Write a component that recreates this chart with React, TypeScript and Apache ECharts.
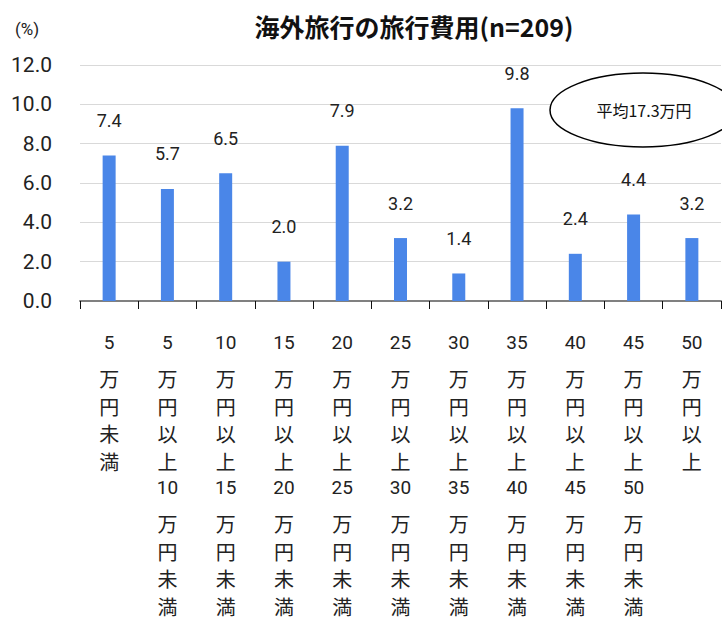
import React, { useEffect, useRef } from "react";
import * as echarts from "echarts";

// Spending brackets (万円) and the share of respondents in each (%)
const categories: string[] = [
  "5万円未満",
  "5万円以上10万円未満",
  "10万円以上15万円未満",
  "15万円以上20万円未満",
  "20万円以上25万円未満",
  "25万円以上30万円未満",
  "30万円以上35万円未満",
  "35万円以上40万円未満",
  "40万円以上45万円未満",
  "45万円以上50万円未満",
  "50万円以上",
];
const shares: number[] = [7.4, 5.7, 6.5, 2.0, 7.9, 3.2, 1.4, 9.8, 2.4, 4.4, 3.2];
const yTicks = { min: 0, max: 12, step: 2 };

const titleText = "海外旅行の旅行費用(n=209)";
const unitText = "(%)";
const averageText = "平均17.3万円";

const FONT = "'Noto Sans CJK JP', 'Noto Sans', sans-serif";
const LATIN = "Roboto, 'Noto Sans', sans-serif";

// Stack each category name vertically: numbers on their own line with a small gap after,
// every other character on its own line.
function stackLabel(name: string): string {
  const parts = name.match(/[0-9]+|./g) || [];
  const lines: string[] = [];
  parts.forEach((p) => {
    if (/^[0-9]+$/.test(p)) {
      lines.push(`{n|${p}}`);
      lines.push(`{s| }`);
    } else {
      lines.push(`{c|${p}}`);
    }
  });
  return lines.join("\n");
}

export default function App() {
  const ref = useRef<HTMLDivElement>(null);

  useEffect(() => {
    if (!ref.current) return;
    const chart = echarts.init(ref.current, null, { renderer: "svg" });
    chart.setOption({
      animation: false,
      backgroundColor: "#ffffff",
      grid: {
        left: 80,
        right: 1,
        top: 65,
        bottom: 320,
        containLabel: false,
        outerBoundsMode: "none",
      },
      xAxis: {
        type: "category",
        data: categories,
        axisLine: { show: true, lineStyle: { color: "#808080", width: 2 } },
        axisTick: { show: true, length: 8, lineStyle: { color: "#111", width: 1 } },
        axisLabel: {
          interval: 0,
          margin: 29.5,
          formatter: (v: string) => stackLabel(v),
          rich: {
            n: { fontFamily: LATIN, fontSize: 19, lineHeight: 24, color: "#222" },
            s: { fontFamily: LATIN, fontSize: 8, lineHeight: 10, color: "#222" },
            c: { fontFamily: FONT, fontSize: 20, lineHeight: 27.75, color: "#222" },
          },
        },
        splitLine: { show: false },
      },
      yAxis: {
        type: "value",
        min: yTicks.min,
        max: yTicks.max,
        interval: yTicks.step,
        axisLine: { show: false },
        axisTick: { show: false },
        axisLabel: {
          margin: 28,
          fontFamily: LATIN,
          fontSize: 21,
          color: "#222",
          formatter: (v: number) => v.toFixed(1),
        },
        splitLine: { lineStyle: { color: "#d9d9d9", width: 1 } },
      },
      series: [
        {
          type: "bar",
          data: shares,
          barWidth: 13,
          itemStyle: { color: "#4a86e8" },
          label: {
            show: true,
            position: "top",
            distance: 26,
            fontFamily: LATIN,
            fontSize: 18,
            color: "#222",
            formatter: (p: any) => Number(p.value).toFixed(1),
          },
        },
      ],
      graphic: [
        {
          type: "text",
          x: 414,
          y: 26,
          style: {
            text: titleText,
            fontFamily: FONT,
            fontWeight: "bold",
            fontSize: 25,
            fill: "#111",
            textAlign: "center",
            textVerticalAlign: "middle",
          },
        },
        {
          type: "text",
          left: 15,
          top: 20,
          style: {
            text: unitText,
            fontFamily: LATIN,
            fontSize: 17,
            fill: "#222",
          },
        },
        {
          type: "ellipse",
          z: 100,
          shape: { cx: 643, cy: 110, rx: 93, ry: 37 },
          style: { fill: "#ffffff", stroke: "#000000", lineWidth: 1.5 },
        },
        {
          type: "text",
          z: 101,
          x: 644,
          y: 110,
          style: {
            text: averageText,
            fontFamily: FONT,
            fontSize: 16,
            fill: "#111",
            textAlign: "center",
            textVerticalAlign: "middle",
          },
        },
      ],
    });
    return () => chart.dispose();
  }, []);

  return (
    <div
      ref={ref}
      style={{ position: "fixed", left: 0, top: 0, width: 722, height: 621 }}
    />
  );
}
